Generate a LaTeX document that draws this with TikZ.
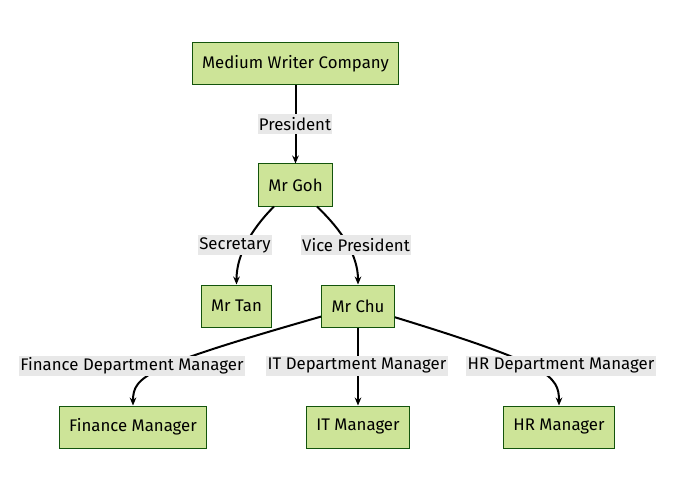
\documentclass[tikz,border=0pt]{standalone}
\usepackage{fontspec}
\setmainfont{Fira Sans}
\usetikzlibrary{arrows.meta}
\definecolor{boxfill}{HTML}{CDE498}
\definecolor{boxline}{HTML}{13540C}
\definecolor{lblfill}{HTML}{E8E8E8}
\begin{document}
\begin{tikzpicture}
          [x=0.75pt,y=0.75pt,
           every node/.style={font=\fontsize{12.6pt}{15pt}\selectfont},
           box/.style={draw=boxline, fill=boxfill, line width=0.75pt, inner xsep=7.5pt, minimum height=31.5pt},
           lbl/.style={fill=lblfill, inner xsep=1pt, inner ysep=0pt, minimum height=15pt},
           link/.style={line width=1.5pt},
           arrow/.style={link, -{Stealth[length=6pt,width=5pt]}}]
        \useasboundingbox (0,0) rectangle (690,476);

        \node[box] (company) at (295.5,412) {Medium Writer Company};
        \node[box] (goh) at (295.5,291) {Mr Goh};

        \node[box] (tan) at (236.5,170) {Mr Tan};
        \node[box] (chu) at (358,170) {Mr Chu};

        \node[box] (finm) at (133,49) {Finance Manager};
        \node[box] (itm) at (358,49) {IT Manager};
        \node[box] (hrm) at (559,49) {HR Manager};

        \foreach \from/\to in {company/goh, chu/itm}
          \draw[arrow] (\from) -- (\to);

        \foreach \from/\to/\out/\len/\back in {goh/tan/-135/45/60, goh/chu/-45/45/60, chu/finm/196/220/51, chu/hrm/-17/200/51}
          \draw[arrow] (\from) .. controls +(\out:\len) and +(90:\back) .. (\to);

        \node[lbl] (pres) at (295,352) {President};
        \node[lbl] (sec) at (235,231) {Secretary};
        \node[lbl] (vp) at (356,231) {Vice President};

        \node[lbl] (fdm) at (132,110) {Finance Department Manager};
        \node[lbl] (itdm) at (357,110) {IT Department Manager};
        \node[lbl] (hrdm) at (561,110) {HR Department Manager};
      \end{tikzpicture}
\end{document}
